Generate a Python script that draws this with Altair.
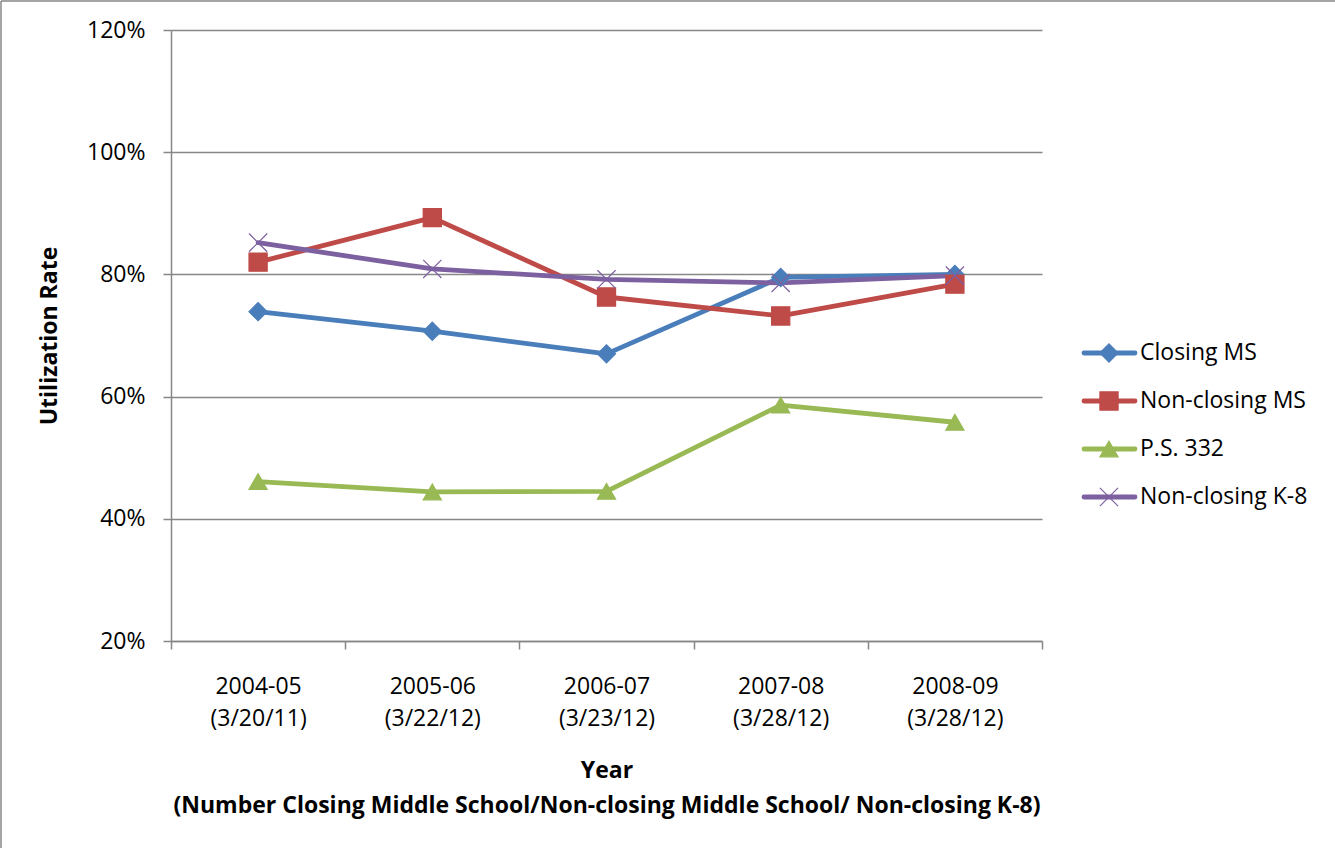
import altair as alt
import pandas as pd

# School years with the date each count was taken
years = ["2004-05", "2005-06", "2006-07", "2007-08", "2008-09"]
count_dates = ["(3/20/11)", "(3/22/12)", "(3/23/12)", "(3/28/12)", "(3/28/12)"]

series = ["Closing MS", "Non-closing MS", "P.S. 332", "Non-closing K-8"]

# Utilization rate, in percent
closing_ms = [73.9, 70.7, 67.0, 79.5, 80.0]
non_closing_ms = [82.0, 89.3, 76.3, 73.2, 78.4]
ps_332 = [46.1, 44.4, 44.5, 58.6, 55.8]
non_closing_k8 = [85.2, 80.9, 79.2, 78.6, 79.8]

colors = ["#4A7EBB", "#BE4B48", "#98B954", "#7D60A0"]
shapes = ["diamond", "square", "triangle-up", "M-1,-1L1,1M-1,1L1,-1"]

FONT = "Open Sans"
GRAY = "#878787"
FS = 23

periods = [f"{y} {d}" for y, d in zip(years, count_dates)]
rows = []
for name, vals in zip(series, [closing_ms, non_closing_ms, ps_332, non_closing_k8]):
    for p, v in zip(periods, vals):
        rows.append({"series": name, "period": p, "rate": v})
df = pd.DataFrame(rows)

legend_df = pd.DataFrame({"series": series, "i": list(range(len(series)))})
frame_df = pd.DataFrame({"k": [0]})

color_scale = alt.Scale(domain=series, range=colors)
shape_scale = alt.Scale(domain=series, range=shapes)

x_enc = alt.X(
    "period:N",
    sort=periods,
    bandPosition=0.5,
    scale=alt.Scale(type="band", paddingInner=0, paddingOuter=0),
    axis=alt.Axis(
        title=["Year", "(Number Closing Middle School/Non-closing Middle School/ Non-closing K-8)"],
        titleFont=FONT,
        titleFontSize=FS,
        titleFontWeight="bold",
        titleColor="black",
        titleLineHeight=35,
        titlePadding=29,
        labelExpr="split(datum.label, ' ')",
        labelFont=FONT,
        labelFontSize=FS,
        labelColor="black",
        labelLineHeight=32,
        labelPadding=26,
        labelAngle=0,
        tickBand="extent",
        tickSize=8,
        tickColor=GRAY,
        tickWidth=1.5,
        domainColor=GRAY,
        domainWidth=1.5,
        grid=False,
    ),
)

y_scale = alt.Scale(domain=[20, 120], nice=False, zero=False)
y_axis = alt.Axis(
    title="Utilization Rate",
    titleFont=FONT,
    titleFontSize=FS,
    titleFontWeight="bold",
    titleColor="black",
    titlePadding=25,
    values=[20, 40, 60, 80, 100, 120],
    labelExpr="datum.value + '%'",
    labelFont=FONT,
    labelFontSize=FS,
    labelColor="black",
    labelPadding=18,
    tickSize=8,
    tickColor=GRAY,
    tickWidth=1.5,
    domainColor=GRAY,
    domainWidth=1.5,
    grid=True,
    gridColor=GRAY,
    gridWidth=1.5,
)

base = alt.Chart(df)

lines = base.mark_line(strokeWidth=4.8, strokeCap="round", strokeJoin="round").encode(
    x=x_enc,
    y=alt.Y("rate:Q", scale=y_scale, axis=y_axis),
    stroke=alt.Stroke("series:N", scale=color_scale, legend=None),
    detail="series:N",
)

points = base.mark_point(filled=True, size=330, strokeWidth=1.2, opacity=1).encode(
    x=x_enc,
    y=alt.Y("rate:Q", scale=y_scale, axis=None),
    fill=alt.Fill("series:N", scale=color_scale, legend=None),
    stroke=alt.Stroke("series:N", scale=color_scale, legend=None),
    shape=alt.Shape("series:N", scale=shape_scale, legend=None),
)

# Legend drawn beside the plot
leg = alt.Chart(legend_df).transform_calculate(ly="323 + 48 * datum.i")
leg_y = alt.Y("ly:Q", scale=None, axis=None)

leg_lines = leg.mark_rule(strokeWidth=4.8, strokeCap="round").encode(
    x=alt.value(913),
    x2=alt.value(964),
    y=leg_y,
    stroke=alt.Stroke("series:N", scale=color_scale, legend=None),
)
leg_points = leg.mark_point(filled=True, size=330, strokeWidth=1.2, opacity=1).encode(
    x=alt.value(938),
    y=leg_y,
    fill=alt.Fill("series:N", scale=color_scale, legend=None),
    stroke=alt.Stroke("series:N", scale=color_scale, legend=None),
    shape=alt.Shape("series:N", scale=shape_scale, legend=None),
)
leg_text = leg.mark_text(align="left", baseline="middle", font=FONT, fontSize=FS, color="black").encode(
    x=alt.value(969),
    y=leg_y,
    text="series:N",
)

# Outer frame edges along the top and left of the canvas
frame_top = alt.Chart(frame_df).mark_rule(color=GRAY, strokeWidth=1.5).encode(
    x=alt.value(-170), x2=alt.value(1170), y=alt.value(-29)
)
frame_left = alt.Chart(frame_df).mark_rule(color=GRAY, strokeWidth=1.5).encode(
    x=alt.value(-170), y=alt.value(-29), y2=alt.value(820)
)

chart = (
    alt.layer(lines, points, leg_lines, leg_points, leg_text, frame_top, frame_left)
    .resolve_scale(y="independent")
    .properties(
        width=871,
        height=611,
        autosize=alt.AutoSizeParams(type="none"),
        padding={"left": 171, "top": 30, "right": 293, "bottom": 207},
        background="white",
    )
    .configure_view(stroke=None)
)

chart.save("out.html", embed_options={"renderer": "svg", "actions": False})
